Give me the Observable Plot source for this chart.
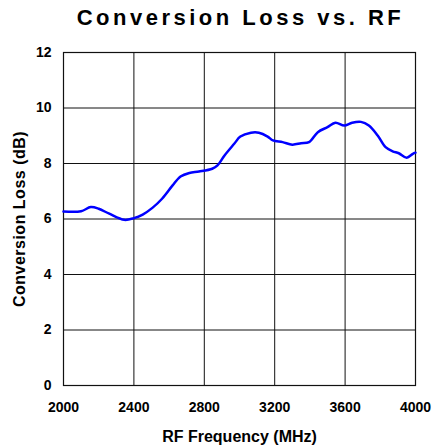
<!DOCTYPE html>
<html>
<head>
<meta charset="utf-8">
<script src="https://cdn.jsdelivr.net/npm/d3@7"></script>
<script src="https://cdn.jsdelivr.net/npm/@observablehq/plot@0.6"></script>
<style>
  body { margin: 0; background: #fff; font-family: "Liberation Sans", Arial, sans-serif; }
  #title { height: 36px; box-sizing: border-box; padding: 4px 18px 0 66px; text-align: center;
           font-size: 22px; font-weight: bold; letter-spacing: 3.5px; line-height: 27px; color: #000; }
  g[aria-label="x-axis label"] text, g[aria-label="y-axis label"] text { font-size: 16px; }
  g[aria-label="y-axis label"] text { letter-spacing: 0.5px; }
</style>
</head>
<body>
<div id="title">Conversion Loss vs. RF</div>
<div id="chart"></div>
<script>
const freq = [2000, 2100, 2155, 2200, 2260, 2345, 2400, 2450, 2505, 2560, 2620, 2665, 2715, 2770, 2845, 2875, 2915, 2970, 3005, 3065, 3110, 3160, 3190, 3245, 3300, 3350, 3395, 3445, 3500, 3545, 3595, 3640, 3690, 3735, 3785, 3830, 3870, 3905, 3950, 3985, 4000];
const loss = [6.27, 6.28, 6.43, 6.37, 6.19, 5.97, 6.03, 6.16, 6.40, 6.73, 7.21, 7.53, 7.66, 7.71, 7.81, 7.93, 8.29, 8.71, 8.97, 9.11, 9.11, 8.97, 8.83, 8.77, 8.68, 8.73, 8.77, 9.13, 9.31, 9.47, 9.37, 9.47, 9.50, 9.37, 9.01, 8.59, 8.44, 8.37, 8.21, 8.35, 8.39];
const xTicks = [2000, 2400, 2800, 3200, 3600, 4000];
const yTicks = [0, 2, 4, 6, 8, 10, 12];
const xLabel = "RF Frequency (MHz)";
const yLabel = "Conversion Loss (dB)";

const data = freq.map((f, i) => ({f, v: loss[i]}));

const chart = Plot.plot({
  width: 433,
  height: 411,
  marginTop: 16,
  marginBottom: 62,
  marginLeft: 63,
  marginRight: 18,
  style: {fontFamily: "'Liberation Sans', Arial, sans-serif", fontWeight: "bold", color: "#000", background: "#fff"},
  x: {domain: [2000, 4000]},
  y: {domain: [0, 12]},
  marks: [
    Plot.gridX(xTicks, {stroke: "#111", strokeOpacity: 1, strokeWidth: 1}),
    Plot.gridY(yTicks, {stroke: "#111", strokeOpacity: 1, strokeWidth: 1}),
    Plot.frame({stroke: "#111", strokeWidth: 1.2}),
    Plot.line(data, {x: "f", y: "v", stroke: "#0000ff", strokeWidth: 2.5, curve: "catmull-rom"}),
    Plot.axisX(xTicks, {tickSize: 0, tickPadding: 17, fontSize: 14, tickFormat: d => String(d),
      label: xLabel, labelAnchor: "center", labelArrow: "none", labelOffset: 56}),
    Plot.axisY(yTicks, {tickSize: 0, tickPadding: 12, fontSize: 14, tickFormat: d => String(d),
      label: yLabel, labelAnchor: "center", labelArrow: "none", labelOffset: 50})
  ]
});
document.getElementById("chart").appendChild(chart);
</script>
</body>
</html>
